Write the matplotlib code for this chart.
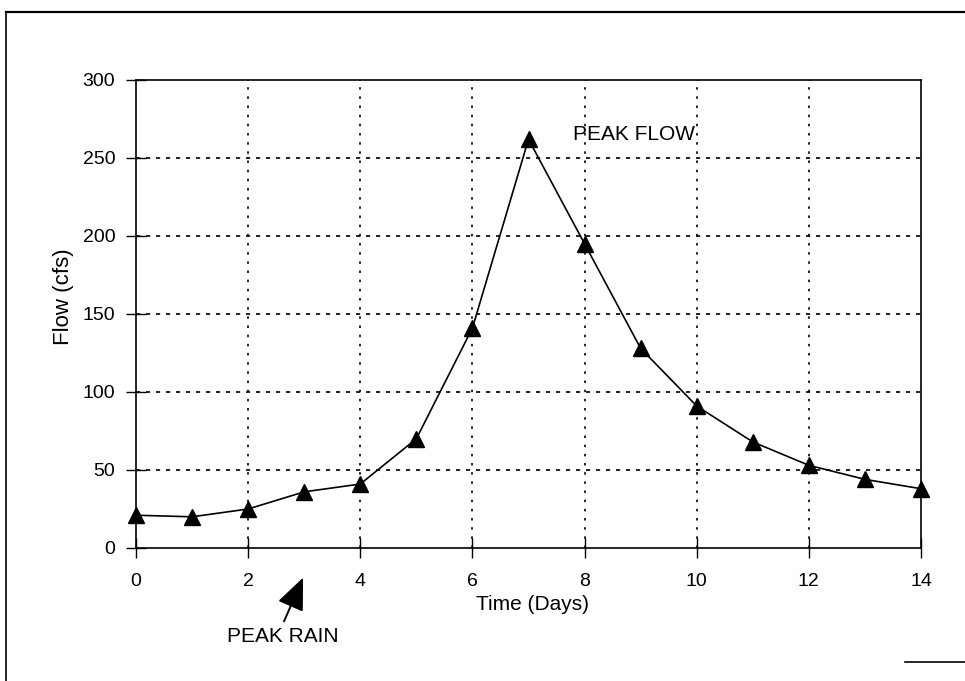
import matplotlib
matplotlib.use("Agg")
import matplotlib.pyplot as plt
from matplotlib.lines import Line2D

days = [0, 1, 2, 3, 4, 5, 6, 7, 8, 9, 10, 11, 12, 13, 14]
flow = [21, 20, 25, 36, 41, 70, 141, 262, 195, 128, 91, 68, 53, 44, 38]
xticks = [0, 2, 4, 6, 8, 10, 12, 14]
yticks = [0, 50, 100, 150, 200, 250, 300]

plt.rcParams['font.family'] = ['Liberation Sans', 'DejaVu Sans']

W, H = 965, 681
fig = plt.figure(figsize=(W / 100, H / 100), dpi=100)
ax = fig.add_axes([136 / W, 1 - 548 / H, (921 - 136) / W, (548 - 80) / H])

ax.plot(days, flow, color='black', lw=1.2, marker='^', markersize=11,
        markerfacecolor='black', markeredgecolor='black', zorder=3, clip_on=False)

ax.set_xlim(0, 14)
ax.set_ylim(0, 300)
ax.set_xticks(xticks)
ax.set_yticks(yticks)
ax.tick_params(axis='both', direction='inout', length=14, width=1, labelsize=14, colors='black')
ax.tick_params(axis='x', pad=11)
ax.tick_params(axis='y', pad=8)

for v in yticks[1:-1]:
    ax.axhline(v, color='black', lw=1.2, ls=(0, (2.5, 3.5)), zorder=1)
for v in xticks[1:-1]:
    ax.axvline(v, color='black', lw=1.2, ls=(0, (1.5, 4)), zorder=1)

for s in ax.spines.values():
    s.set_linewidth(1.2)

def px(x, y):
    return x / W, 1 - y / H

fig.text(*px(532, 605), 'Time (Days)', fontsize=15, ha='center', va='center')
fig.text(*px(64, 297), 'Flow (cfs)', fontsize=16, ha='center', va='center', rotation=90)
fig.text(*px(573, 135), 'PEAK FLOW', fontsize=15, ha='left', va='center')
fig.text(*px(283, 637), 'PEAK RAIN', fontsize=15, ha='center', va='center')

# arrow pointing to the day of peak rain (tip at day 3, below the axis)
ax.annotate('', xy=(2.98, -19), xytext=(2.64, -47), xycoords='data', textcoords='data',
            annotation_clip=False,
            arrowprops=dict(arrowstyle='-|>,head_length=2.0,head_width=0.85',
                            mutation_scale=10, color='black', lw=1.4,
                            shrinkA=0, shrinkB=0))

# outer frame of the scanned figure
fig.add_artist(Line2D([6 / W, 1], [1 - 12 / H, 1 - 12 / H], transform=fig.transFigure, color='black', lw=1.6))
fig.add_artist(Line2D([6 / W, 6 / W], [1 - 12 / H, 0], transform=fig.transFigure, color='black', lw=1.2))
fig.add_artist(Line2D([905 / W, 1], [1 - 662 / H, 1 - 662 / H], transform=fig.transFigure, color='black', lw=1.2))

fig.savefig('out.png', dpi=100)
